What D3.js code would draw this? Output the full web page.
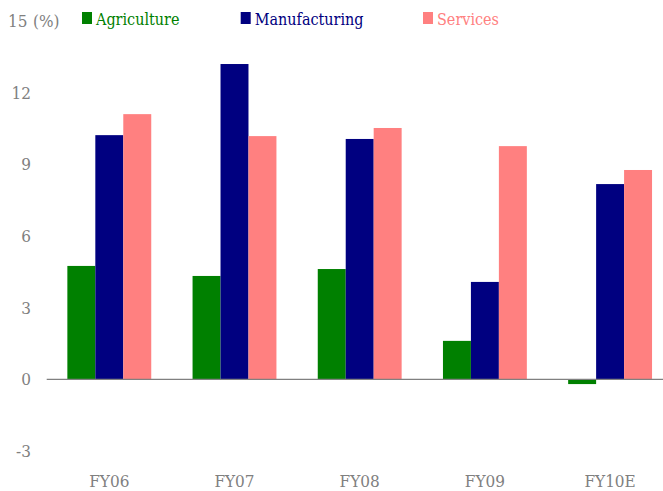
<!DOCTYPE html>
<html>
<head>
<meta charset="utf-8">
<script src="https://cdn.jsdelivr.net/npm/d3@7"></script>
<style>
  html, body { margin: 0; padding: 0; background: #fff; }
  svg { display: block; }
  text { font-stretch: condensed; }
</style>
</head>
<body>
<script>
const categories = ["FY06", "FY07", "FY08", "FY09", "FY10E"];
const seriesNames = ["Agriculture", "Manufacturing", "Services"];
const agriculture = [4.75, 4.33, 4.62, 1.61, -0.2];
const manufacturing = [10.23, 13.21, 10.07, 4.08, 8.18];
const services = [11.11, 10.19, 10.53, 9.77, 8.77];
const yTicks = [-3, 0, 3, 6, 9, 12, 15];
const colors = ["#008000", "#000080", "#FF8080"];
const FONT = '"DejaVu Serif Condensed", "DejaVu Serif", serif';

const W = 663, H = 491;
const svg = d3.select("body").append("svg").attr("width", W).attr("height", H);

const seriesValues = [agriculture, manufacturing, services];
const yMax = yTicks[yTicks.length - 1];

const y = d3.scaleLinear().domain([yTicks[0], yMax]).range([450.9, 21.3]);
const x0 = d3.scaleBand().domain(categories).range([46.7, 672.7])
  .paddingInner(0.33).paddingOuter(0.165);
const x1 = d3.scaleBand().domain(seriesNames).range([0, x0.bandwidth()]);

// y tick labels (top tick drawn with its unit)
const yAxis = svg.append("g").attr("transform", "translate(31,0)")
  .call(d3.axisLeft(y).tickValues(yTicks.filter(d => d !== yMax))
    .tickSize(0).tickPadding(0).tickFormat(d => d));
yAxis.select(".domain").remove();
yAxis.selectAll("text").attr("font-size", 17).attr("fill", "#808080")
  .attr("font-family", FONT);
svg.append("text").attr("x", 8).attr("y", y(yMax)).attr("dy", "0.32em")
  .attr("font-size", 17).attr("fill", "#808080").attr("font-family", FONT).text(yMax);
svg.append("text").attr("x", 33).attr("y", y(yMax)).attr("dy", "0.32em")
  .attr("font-size", 17).attr("fill", "#808080").attr("font-family", FONT).text("(%)");

// bars
const groups = svg.append("g").selectAll("g").data(categories).join("g")
  .attr("transform", d => `translate(${x0(d)},0)`);
groups.selectAll("rect")
  .data((d, i) => seriesNames.map((s, j) => ({ s, j, v: seriesValues[j][i] })))
  .join("rect")
  .attr("x", d => x1(d.s))
  .attr("width", x1.bandwidth())
  .attr("y", d => y(Math.max(0, d.v)))
  .attr("height", d => Math.abs(y(d.v) - y(0)))
  .attr("fill", d => colors[d.j]);

// zero axis line
svg.append("line").attr("x1", 46.7).attr("x2", 663)
  .attr("y1", y(0)).attr("y2", y(0))
  .attr("stroke", "#808080").attr("stroke-width", 1.3);

// category labels
const xAxis = svg.append("g").attr("transform", "translate(0,482)")
  .call(d3.axisBottom(x0).tickSize(0).tickPadding(0));
xAxis.select(".domain").remove();
xAxis.selectAll("text").attr("font-size", 17).attr("fill", "#808080")
  .attr("dy", "0.32em").attr("font-family", FONT);

// legend
const legendX = [82, 240.7, 423];
const legend = svg.append("g").selectAll("g").data(seriesNames).join("g")
  .attr("transform", (d, i) => `translate(${legendX[i]},12)`);
legend.append("rect").attr("width", 10).attr("height", 12)
  .attr("fill", (d, i) => colors[i]);
legend.append("text").attr("x", 14).attr("y", 12.5)
  .attr("font-size", 16).attr("fill", (d, i) => colors[i])
  .attr("font-family", FONT).text(d => d);
</script>
</body>
</html>
